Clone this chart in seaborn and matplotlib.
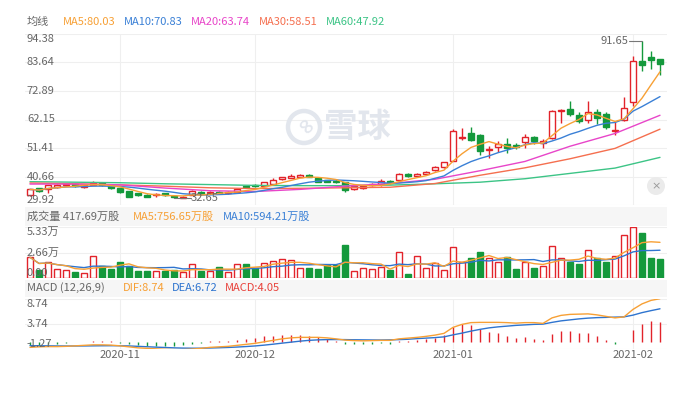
import numpy as np
import pandas as pd
import matplotlib
matplotlib.use("Agg")
import matplotlib.pyplot as plt
import matplotlib.transforms as mtransforms
from matplotlib.patches import Rectangle, Ellipse
import seaborn as sns

sns.set_theme(style="white")
plt.rcParams['font.family'] = ['Noto Sans CJK SC', 'DejaVu Sans']

# ---------------- data ----------------
month_labels = ["2020-11", "2020-12", "2021-01", "2021-02"]
month_index = [10, 25, 47, 67]

opens = [33.7, 36.4, 35.9, 36.9, 37.4, 37.9, 36.9, 37.7, 38.4, 37.2,
         36.4, 35.2, 34.4, 33.9, 33.7, 34.4, 33.3, 32.8, 33.9, 35.0,
         34.4, 35.0, 34.5, 35.0, 37.0, 37.4, 37.3, 38.0, 39.7, 40.3,
         40.7, 41.3, 40.3, 39.3, 38.9, 38.6, 36.1, 36.6, 37.5, 37.8,
         39.0, 39.3, 41.6, 41.0, 41.6, 43.1, 44.3, 46.6, 55.1, 57.05,
         56.4, 50.7, 51.7, 53.0, 52.7, 53.7, 55.5, 53.4, 55.3, 65.2,
         66.1, 63.8, 61.9, 64.9, 64.1, 57.8, 61.9, 68.7, 84.3, 85.6, 85.0]
closes = [35.9, 35.4, 37.4, 37.4, 38.0, 37.2, 37.4, 38.2, 37.4, 36.4,
          34.9, 33.2, 33.7, 33.2, 34.2, 33.7, 32.9, 33.1, 35.2, 34.0,
          35.0, 34.5, 35.0, 36.0, 36.7, 37.1, 38.6, 39.3, 40.4, 40.9,
          41.4, 40.6, 38.8, 38.8, 38.5, 35.6, 37.1, 37.1, 38.0, 39.0,
          38.3, 41.6, 41.0, 41.6, 42.6, 44.3, 46.1, 57.8, 55.6, 54.5,
          50.15, 51.2, 53.0, 51.4, 51.7, 55.5, 53.9, 54.0, 65.3, 65.7,
          64.2, 61.6, 65.1, 62.7, 59.4, 58.3, 66.5, 84.1, 82.5, 84.4, 82.9]
highs = [36.1, 36.6, 37.6, 37.9, 38.3, 38.2, 37.7, 39.2, 38.6, 37.5,
         36.6, 35.4, 34.6, 34.1, 34.4, 34.6, 33.5, 33.3, 35.5, 35.2,
         35.3, 35.2, 35.3, 36.3, 37.3, 37.8, 38.8, 40.0, 40.6, 41.8,
         41.7, 41.5, 40.5, 39.5, 39.8, 38.8, 37.3, 37.3, 38.2, 39.8,
         39.3, 41.9, 41.9, 42.1, 42.8, 44.6, 46.3, 58.4, 59.1, 59.3,
         56.6, 52.2, 53.9, 55.3, 53.3, 56.7, 55.9, 54.8, 65.6, 66.1,
         69.2, 65.0, 69.2, 66.2, 65.0, 61.2, 70.6, 86.0, 91.65, 87.9, 85.0]
lows = [33.6, 34.9, 34.4, 36.6, 37.0, 36.9, 36.6, 37.4, 37.0, 36.1,
        34.5, 32.9, 33.3, 33.0, 32.9, 33.4, 32.65, 32.7, 33.7, 33.8,
        34.2, 34.2, 34.3, 34.8, 36.4, 36.8, 37.1, 37.8, 39.4, 40.1,
        40.5, 40.4, 38.6, 38.5, 38.2, 34.9, 35.6, 35.9, 37.2, 37.3,
        38.0, 39.1, 40.7, 40.8, 41.4, 42.9, 44.1, 46.4, 54.6, 54.0,
        48.65, 47.6, 49.9, 49.5, 51.2, 51.5, 53.0, 51.5, 54.7, 60.9,
        63.4, 60.8, 60.9, 60.6, 58.7, 56.4, 61.4, 67.2, 80.3, 81.0, 78.7]

volumes = [2.17, 0.9, 1.66, 0.93, 0.83, 0.69, 0.55, 2.28, 1.28, 0.97,
           1.69, 1.24, 0.76, 0.76, 0.72, 0.79, 0.83, 0.66, 1.45, 0.76,
           0.72, 1.17, 0.62, 1.45, 1.48, 1.03, 1.55, 1.76, 2.0, 1.9,
           1.03, 1.1, 1.0, 1.38, 1.38, 3.45, 0.79, 1.03, 0.93, 1.14,
           0.86, 2.69, 0.45, 2.28, 1.03, 1.55, 0.83, 3.21, 1.66, 2.1,
           2.72, 2.07, 1.66, 2.21, 0.97, 1.66, 1.07, 1.24, 3.31, 2.1,
           1.69, 1.48, 2.9, 2.07, 1.69, 2.28, 4.45, 5.3, 4.69, 2.14, 2.0]

# longer moving averages, read every 5 sessions
ma_index = [0, 5, 10, 15, 20, 25, 30, 35, 40, 45, 50, 55, 60, 65, 70]
ma20 = [37.9, 37.9, 37.6, 36.4, 35.4, 35.1, 35.9, 37.1, 38.1, 39.7, 42.9, 46.4, 52.1, 56.9, 63.74]
ma30 = [38.3, 38.0, 37.6, 37.1, 36.5, 36.2, 36.3, 36.5, 36.7, 38.1, 41.2, 44.0, 47.4, 51.3, 58.51]
ma60 = [38.8, 38.6, 38.4, 38.0, 37.7, 37.4, 37.3, 37.3, 37.5, 38.0, 38.6, 39.9, 41.9, 43.9, 47.92]

dif = [-1.0, -0.9, -0.85, -0.85, -0.8, -0.7, -0.6, -0.5, -0.5, -0.55,
       -0.7, -0.9, -1.1, -1.2, -1.3, -1.4, -1.45, -1.45, -1.35, -1.2,
       -1.0, -0.9, -0.8, -0.6, -0.4, -0.2, 0.1, 0.4, 0.7, 0.9,
       1.0, 1.0, 1.0, 0.9, 0.7, 0.45, 0.35, 0.3, 0.35, 0.4,
       0.4, 0.7, 0.85, 1.0, 1.2, 1.45, 1.8, 3.0, 3.6, 3.95,
       4.0, 4.0, 4.0, 3.95, 3.85, 3.95, 3.95, 3.8, 4.9, 5.4,
       5.6, 5.65, 5.7, 5.5, 5.2, 4.9, 5.1, 6.6, 7.7, 8.4, 8.74]
dea = [-0.67, -0.68, -0.7, -0.72, -0.73, -0.73, -0.72, -0.7, -0.68, -0.67,
       -0.68, -0.72, -0.8, -0.88, -0.96, -1.03, -1.1, -1.15, -1.17, -1.17,
       -1.13, -1.08, -1.02, -0.94, -0.84, -0.72, -0.56, -0.37, -0.16, 0.04,
       0.24, 0.4, 0.5, 0.55, 0.56, 0.55, 0.52, 0.5, 0.48, 0.47,
       0.5, 0.55, 0.62, 0.75, 0.85, 0.95, 1.1, 1.5, 1.85, 2.25,
       2.6, 2.9, 3.1, 3.25, 3.4, 3.5, 3.6, 3.65, 4.0, 4.3,
       4.5, 4.7, 4.85, 4.95, 5.0, 5.05, 5.1, 5.45, 5.95, 6.35, 6.72]
macd_hist = [-0.55, -0.45, -0.35, -0.25, -0.1, 0.05, 0.15, 0.35, 0.35, 0.25,
             -0.05, -0.4, -0.6, -0.65, -0.7, -0.75, -0.7, -0.6, -0.4, -0.1,
             0.2, 0.25, 0.3, 0.47, 0.67, 0.87, 1.2, 1.33, 1.53, 1.53,
             1.47, 1.33, 1.0, 0.67, 0.27, -0.3, -0.35, -0.4, -0.3, -0.2,
             -0.25, 0.21, 0.35, 0.48, 0.68, 0.95, 1.41, 3.01, 3.61, 3.41,
             2.61, 2.08, 1.81, 1.35, 0.81, 1.08, 0.68, 0.41, 1.61, 2.28,
             2.21, 1.88, 1.81, 1.28, 0.48, -0.4, 0.05, 2.41, 3.61, 4.28, 4.05]

price_ticks = [94.38, 83.64, 72.89, 62.15, 51.41, 40.66, 29.92]
vol_ticks = [5.33, 2.66, 0.0]
vol_tick_labels = ["5.33万", "2.66万", "0.00"]
macd_ticks = [8.74, 3.74, -1.27]

# ---------------- style ----------------
RED = '#e2232a'
GREEN = '#14993c'
C_MA5 = '#f7a035'
C_MA10 = '#3a80d6'
C_MA20 = '#e845c9'
C_MA30 = '#f56f4f'
C_MA60 = '#3cc486'
C_DEA = '#2e74cf'
GRID = '#efefef'
TXT = '#666666'
BAND = '#f6f6f6'

W_PX, H_PX = 696, 397
fig = plt.figure(figsize=(W_PX / 100, H_PX / 100), dpi=100)
fig.patch.set_facecolor('white')


def fx(x):
    return x / W_PX


def fy(y):
    return 1 - y / H_PX


L, R = 25, 667
XL = ((L - 30) / 9, (R - 30) / 9)


def make_ax(top, bottom, ylim):
    ax = fig.add_axes([fx(L), fy(bottom), fx(R) - fx(L), (bottom - top) / H_PX])
    ax.set_xlim(*XL)
    ax.set_ylim(*ylim)
    ax.patch.set_alpha(0)
    for s in ax.spines.values():
        s.set_visible(False)
    ax.set_xticks([])
    ax.set_yticks([])
    for m in month_index:
        ax.axvline(m, color=GRID, lw=0.8, zorder=0.2)
    return ax


# header bands
for top, bot in [(207, 226), (280, 297)]:
    fig.add_artist(Rectangle((fx(L), fy(bot)), fx(R) - fx(L), (bot - top) / H_PX,
                             transform=fig.transFigure, facecolor=BAND, edgecolor='none', zorder=-2))

ax_p = make_ax(33.7, 205.3, (29.92, 94.38))
ax_v = make_ax(226.7, 278.3, (0, 5.33))
ax_m = make_ax(298.7, 348.7, (-1.27, 8.74))

for ax, ticks in [(ax_p, price_ticks), (ax_v, vol_ticks), (ax_m, macd_ticks)]:
    for t in ticks:
        ax.axhline(t, color=GRID, lw=0.8, zorder=0.2)

x = np.arange(len(closes))
o = np.array(opens); c = np.array(closes); h = np.array(highs); lo = np.array(lows)
up = c >= o
edge_cols = np.where(up, RED, GREEN)
face_cols = np.where(up, 'white', GREEN)

# watermark
ax_p.add_patch(Ellipse((fx(304), fy(127)), 32 / W_PX, 32 / H_PX, transform=fig.transFigure,
                       fill=False, edgecolor='#e2e6ed', lw=3.2, zorder=0.3, clip_on=False))
ax_p.text(fx(304), fy(127), "∞", transform=fig.transFigure, ha='center', va='center',
          fontsize=15, color='#e2e6ed', rotation=-45, zorder=0.3, family='DejaVu Sans', fontweight='bold')
ax_p.text(fx(324), fy(127), "雪球", transform=fig.transFigure, ha='left', va='center',
          fontsize=24, color='#e2e6ed', fontweight='bold', zorder=0.3)

# candles
ax_p.vlines(x, lo, h, colors=edge_cols, linewidth=1.0, zorder=3)
body_lo = np.minimum(o, c)
body_h = np.maximum(np.abs(c - o), 0.12)
ax_p.bar(x, body_h, bottom=body_lo, width=0.7, color=face_cols, edgecolor=edge_cols,
         linewidth=1.0, zorder=4)

# moving averages
cs = pd.Series(closes)
ma5 = cs.rolling(5, min_periods=1).mean()
ma10 = cs.rolling(10, min_periods=1).mean()
for xs, ys, col in [(ma_index, ma60, C_MA60), (ma_index, ma30, C_MA30), (ma_index, ma20, C_MA20),
                    (x, ma10.values, C_MA10), (x, ma5.values, C_MA5)]:
    sns.lineplot(x=np.asarray(xs), y=np.asarray(ys), ax=ax_p, color=col, linewidth=1.0, zorder=5)

# high/low annotations
ax_p.plot([68, 66.55], [91.65, 91.65], color='#777777', lw=0.8, zorder=6)
ax_p.text(66.5, 91.65, "91.65", ha='right', va='center', fontsize=8, color=TXT, zorder=6)
ax_p.plot([16, 17.85], [32.65, 32.65], color='#777777', lw=0.8, zorder=6)
ax_p.text(17.9, 32.65, "32.65", ha='left', va='center', fontsize=8, color=TXT, zorder=6)

# close button
ax_p.add_patch(Ellipse((fx(656), fy(186)), 18 / W_PX, 18 / H_PX, transform=fig.transFigure,
                       facecolor='#ebebeb', edgecolor='none', zorder=7, clip_on=False))
ax_p.text(fx(656), fy(186.5), "×", transform=fig.transFigure, ha='center', va='center',
          fontsize=8, color='#9a9a9a', zorder=8, family='DejaVu Sans')

# volume
ax_v.bar(x, volumes, width=0.7, color=face_cols, edgecolor=edge_cols, linewidth=1.0, zorder=3)
vs = pd.Series(volumes)
sns.lineplot(x=x, y=vs.rolling(10, min_periods=1).mean().values, ax=ax_v, color=C_DEA, linewidth=1.0, zorder=4)
sns.lineplot(x=x, y=vs.rolling(5, min_periods=1).mean().values, ax=ax_v, color=C_MA5, linewidth=1.0, zorder=4)

# MACD
hist = np.array(macd_hist)
ax_m.vlines(x, 0, hist, colors=np.where(hist >= 0, RED, GREEN), linewidth=1.0, zorder=3)
sns.lineplot(x=x, y=np.array(dea), ax=ax_m, color=C_DEA, linewidth=1.0, zorder=4)
sns.lineplot(x=x, y=np.array(dif), ax=ax_m, color=C_MA5, linewidth=1.0, zorder=4)

for ax in (ax_p, ax_v, ax_m):
    ax.set_xlabel('')
    ax.set_ylabel('')
    ax.set_xlim(*XL)
ax_p.set_ylim(29.92, 94.38)
ax_v.set_ylim(0, 5.33)
ax_m.set_ylim(-1.27, 8.74)


# y labels drawn inside the panels
def ylabels(ax, vals, labels):
    tr = mtransforms.blended_transform_factory(ax.transAxes, ax.transData)
    n = len(vals)
    for i, (v, s) in enumerate(zip(vals, labels)):
        va = 'top' if i == 0 else ('bottom' if i == n - 1 else 'center')
        ax.text(0.003, v, s, transform=tr, ha='left', va=va, fontsize=8, color=TXT, zorder=9)


ylabels(ax_p, price_ticks, [f"{t:.2f}" for t in price_ticks])
ylabels(ax_v, vol_ticks, vol_tick_labels)
ylabels(ax_m, macd_ticks, [f"{t:.2f}" for t in macd_ticks])

# date labels
trd = mtransforms.blended_transform_factory(ax_m.transData, fig.transFigure)
for m, s in zip(month_index, month_labels):
    ax_m.text(m, fy(355), s, transform=trd, ha='center', va='center', fontsize=8, color=TXT, clip_on=False)


# header texts
def ftext(xp, yp, s, col):
    fig.text(fx(xp), fy(yp), s, color=col, fontsize=8, ha='left', va='center')


for s, xp, col in [("均线", 27, TXT), ("MA5:80.03", 63, C_MA5), ("MA10:70.83", 124, C_MA10),
                   ("MA20:63.74", 191, C_MA20), ("MA30:58.51", 259, C_MA30), ("MA60:47.92", 326, C_MA60)]:
    ftext(xp, 22, s, col)
for s, xp, col in [("成交量 417.69万股", 27, TXT), ("MA5:756.65万股", 133, C_MA5),
                   ("MA10:594.21万股", 223, C_MA10)]:
    ftext(xp, 217, s, col)
for s, xp, col in [("MACD (12,26,9)", 27, TXT), ("DIF:8.74", 123, C_MA5), ("DEA:6.72", 172, C_DEA),
                   ("MACD:4.05", 225, '#e8413a')]:
    ftext(xp, 288, s, col)

fig.savefig("out.png", dpi=100)
